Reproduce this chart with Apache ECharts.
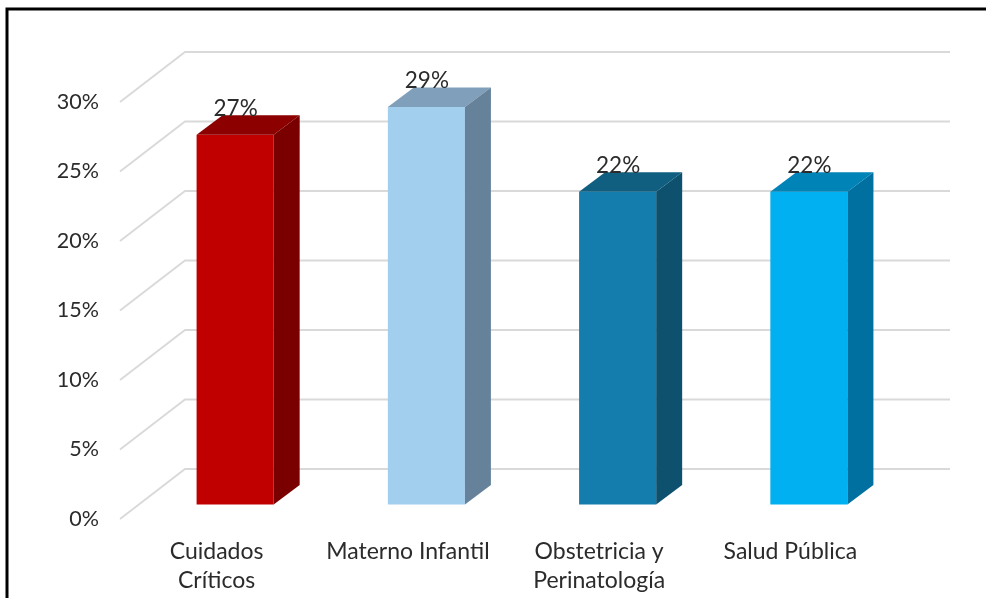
<!DOCTYPE html>
<html>
<head>
<meta charset="utf-8">
<title>Chart</title>
<style>
    html, body { margin: 0; padding: 0; background: #fff; }
    #chart { width: 986px; height: 598px; }
</style>
<script src="https://cdn.jsdelivr.net/npm/echarts@6/dist/echarts.min.js"></script>
</head>
<body>
<div id="chart"></div>
<script>
const categories = ['Cuidados\nCríticos', 'Materno Infantil', 'Obstetricia y\nPerinatología', 'Salud Pública'];
const barValues = [26.6, 28.6, 22.5, 22.5];
const barLabels = ['27%', '29%', '22%', '22%'];
const tickValues = [0, 5, 10, 15, 20, 25, 30];

// front, top, side
const barFaces = [
    ['#c00000', '#8c0000', '#7a0000'],
    ['#a3cfef', '#7f9fbb', '#66829a'],
    ['#147dad', '#105f80', '#0d516f'],
    ['#00b0f0', '#0084b8', '#0070a0']
];

const fontName = 'Lato, "Open Sans", sans-serif';
const textColor = '#2b2b2b';

// Fake 3D: how far the back wall sits from the front plane, and where the bars sit in between
const wallDx = 65, wallDy = -50;
const barShiftX = 19.5, barShiftY = -14.5;
const barDepthX = 26, barDepthY = -19.5;

const chart = echarts.init(document.getElementById('chart'));

function renderWall(params, api) {
    const y = api.coord([0, api.value(0)])[1];
    const sys = params.coordSys;
    return {
        type: 'polyline',
        shape: {
            points: [
                [sys.x, y],
                [sys.x + wallDx, y + wallDy],
                [sys.x + sys.width + wallDx, y + wallDy]
            ]
        },
        style: { fill: null, stroke: '#d9d9d9', lineWidth: 1.8 }
    };
}

function renderBar(params, api) {
    const i = api.value(0);
    const faces = barFaces[i];
    const top = api.coord([i, api.value(1)]);
    const base = api.coord([i, 0]);
    const w = api.size([1, 0])[0] * 0.403;

    const x0 = top[0] + barShiftX - w / 2;
    const x1 = x0 + w;
    const yTop = top[1] + barShiftY;
    const yBase = base[1] + barShiftY;

    return {
        type: 'group',
        children: [
            {
                type: 'polygon',
                shape: { points: [[x0, yBase], [x1, yBase], [x1, yTop], [x0, yTop]] },
                style: { fill: faces[0] }
            },
            {
                type: 'polygon',
                shape: { points: [[x0, yTop], [x1, yTop], [x1 + barDepthX, yTop + barDepthY], [x0 + barDepthX, yTop + barDepthY]] },
                style: { fill: faces[1] }
            },
            {
                type: 'polygon',
                shape: { points: [[x1, yBase], [x1 + barDepthX, yBase + barDepthY], [x1 + barDepthX, yTop + barDepthY], [x1, yTop]] },
                style: { fill: faces[2] }
            },
            {
                type: 'text',
                style: {
                    x: (x0 + x1) / 2 + 0.5,
                    y: yTop - 26,
                    text: barLabels[i],
                    fill: textColor,
                    font: '22.5px ' + fontName,
                    align: 'center',
                    verticalAlign: 'middle'
                }
            }
        ]
    };
}

const option = {
    backgroundColor: '#ffffff',
    animation: false,
    grid: { left: 120, right: 101, top: 102, bottom: 79 },
    xAxis: {
        type: 'category',
        data: categories,
        axisLine: { show: false },
        axisTick: { show: false },
        axisLabel: {
            color: textColor,
            fontFamily: fontName,
            fontSize: 23,
            lineHeight: 29,
            margin: 18,
            padding: [0, 0, 0, 2],
            interval: 0
        }
    },
    yAxis: {
        type: 'value',
        min: 0,
        max: 30,
        interval: 5,
        axisLine: { show: false },
        axisTick: { show: false },
        splitLine: { show: false },
        axisLabel: {
            color: textColor,
            fontFamily: fontName,
            fontSize: 21.5,
            margin: 21,
            padding: [5, 0, 0, 0],
            formatter: '{value}%'
        }
    },
    graphic: [{
        type: 'polyline',
        shape: { points: [[7, 598], [7, 9], [986, 9]] },
        style: { fill: null, stroke: '#000000', lineWidth: 3 },
        silent: true
    }],
    series: [
        {
            type: 'custom',
            silent: true,
            z: 1,
            renderItem: renderWall,
            encode: { y: 0 },
            data: tickValues.map(v => [v])
        },
        {
            type: 'custom',
            silent: true,
            z: 2,
            renderItem: renderBar,
            encode: { x: 0, y: 1 },
            data: barValues.map((v, i) => [i, v])
        }
    ]
};

chart.setOption(option);
</script>
</body>
</html>
